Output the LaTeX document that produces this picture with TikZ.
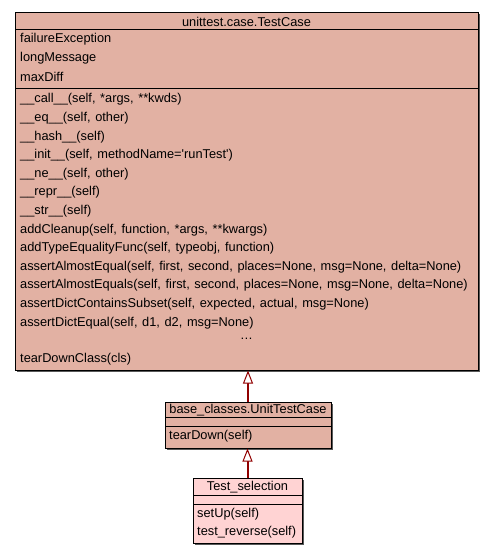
\documentclass[tikz,border=0pt]{standalone}
\usepackage{fontspec}
\setmainfont{Liberation Sans}[WordSpace=1.3]
\usetikzlibrary{arrows.meta,shadows}
\definecolor{clsfill}{RGB}{226,177,163}
\definecolor{selfill}{RGB}{255,211,211}
\definecolor{inhred}{RGB}{145,0,0}
\begin{document}
\begin{tikzpicture}[x=1pt,y=-1pt,font=\fontsize{12.8}{14}\selectfont,
  clsbox/.style={draw,line width=1pt,fill=clsfill,inner sep=0pt,
    drop shadow={shadow xshift=1.5pt,shadow yshift=-1.5pt,fill=black!65,opacity=1}},
  memb/.style={anchor=west,inner sep=0pt},
  inh/.style={inhred,line width=2pt,
    -{Triangle[open,length=13pt,width=10pt,line width=1pt,fill=white]}}]
\fill[white] (0,0) rectangle (493,555);
% unittest.case.TestCase
\node[clsbox,minimum width=463pt,minimum height=358pt] (testcase) at (246.5,191) {};
\draw[line width=1pt] (15,29)--(478,29) (15,88)--(478,88);
\node (tctitle) at (246.5,21.5) {unittest.case.TestCase};
\foreach \y/\lab [count=\i] in {39.5/failureException,58/longMessage,76.5/maxDiff}
  \node[memb] (attr\i) at (20,\y) {\lab};
\foreach \lab [count=\i from 0] in {
  {\_\_call\_\_(self, *args, **kwds)},
  {\_\_eq\_\_(self, other)},
  {\_\_hash\_\_(self)},
  {\_\_init\_\_(self, methodName=\textquotesingle runTest\textquotesingle)},
  {\_\_ne\_\_(self, other)},
  {\_\_repr\_\_(self)},
  {\_\_str\_\_(self)},
  {addCleanup(self, function, *args, **kwargs)},
  {addTypeEqualityFunc(self, typeobj, function)},
  {assertAlmostEqual(self, first, second, places=None, msg=None, delta=None)},
  {assertAlmostEquals(self, first, second, places=None, msg=None, delta=None)},
  {assertDictContainsSubset(self, expected, actual, msg=None)},
  {assertDictEqual(self, d1, d2, msg=None)}}
  \node[memb] (meth\i) at (20,99.5+18.6*\i) {\lab};
\node[inner sep=0pt] (tcdots) at (246.5,339) {\dots};
\node[memb] (tcteardown) at (20,359.5) {tearDownClass(cls)};
% base_classes.UnitTestCase
\node[clsbox,minimum width=166pt,minimum height=46pt] (utcase) at (248,425) {};
\draw[line width=1pt] (165,417)--(331,417) (165,426)--(331,426);
\node (uttitle) at (248,410.5) {base\_classes.UnitTestCase};
\node[memb] (utteardown) at (169,436.5) {tearDown(self)};
% Test_selection
\node[clsbox,fill=selfill,minimum width=109pt,minimum height=65pt] (selection) at (247.5,510.5) {};
\draw[line width=1pt] (193,495)--(302,495) (193,504)--(302,504);
\node (seltitle) at (247.5,487.5) {Test\_selection};
\node[memb] (selsetup) at (197,514) {setUp(self)};
\node[memb] (selreverse) at (197,532) {test\_reverse(self)};
% inheritance
\draw[inh] (utcase.north) -- (utcase.north |- testcase.south);
\draw[inh] (selection.north) -- (selection.north |- utcase.south);
\end{tikzpicture}
\end{document}
